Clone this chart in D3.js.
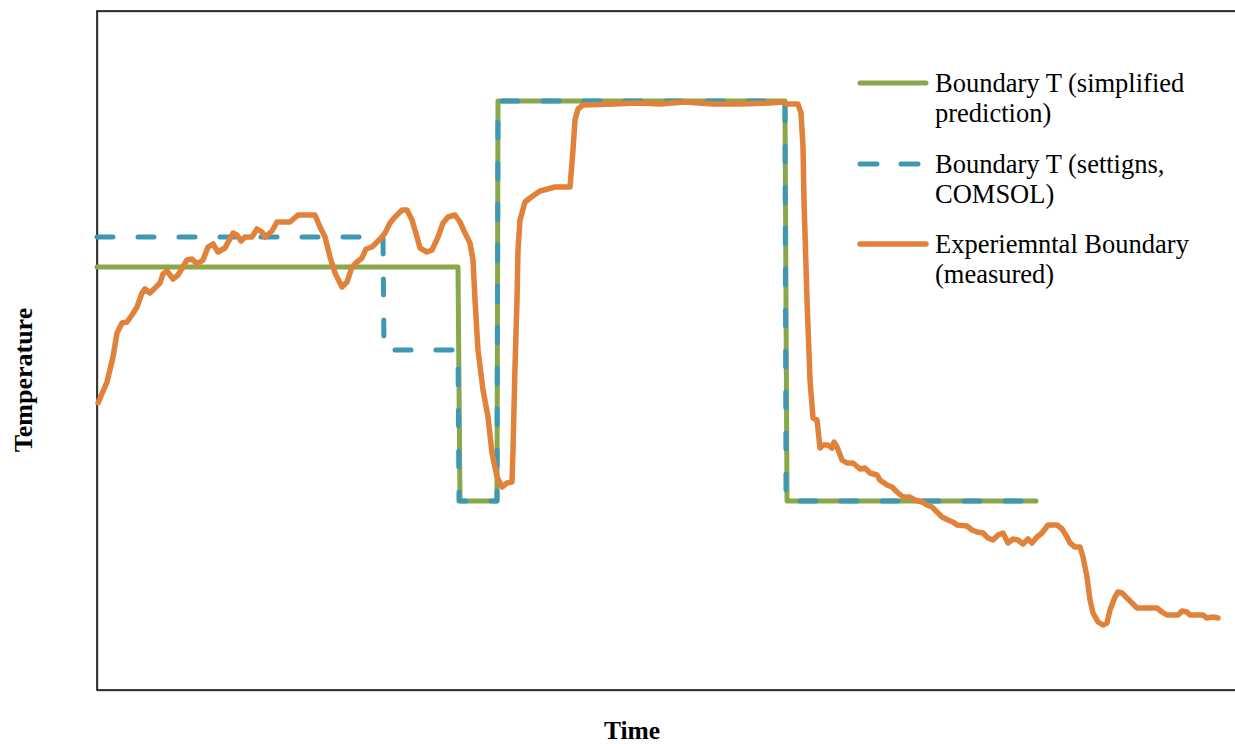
<!DOCTYPE html>
<html>
<head>
<meta charset="utf-8">
<script src="https://cdn.jsdelivr.net/npm/d3@7"></script>
<style>
  html, body { margin: 0; padding: 0; background: #fff; }
  svg { display: block; }
</style>
</head>
<body>
<svg id="chart" width="1235" height="744"></svg>
<script>
// ---- Data (arbitrary time / temperature units; the original has no tick labels) ----
const simplifiedTime = [0, 361, 363, 400, 401, 688, 690, 939];
const simplifiedTemp = [423, 423, 189, 189, 589, 589, 189, 189];

const comsolTime = [0, 286, 287, 361, 362, 400, 401, 688, 689, 939];
const comsolTemp = [453, 453, 340, 340, 189, 189, 589, 589, 189, 189];

const measuredTime = [
  1, 10, 16, 20, 25, 30, 35, 40, 45, 48,
  53, 58, 63, 66, 70, 76, 81, 90, 95, 100,
  106, 111, 116, 121, 128, 136, 140, 144, 148, 155,
  160, 165, 168, 175, 180, 193, 201, 218, 223, 228,
  233, 238, 245, 250, 255, 260, 265, 269, 275, 280,
  285, 288, 293, 298, 305, 310, 315, 320, 323, 330,
  335, 341, 346, 351, 358, 363, 368, 373, 376, 378,
  381, 386, 391, 395, 400, 405, 410, 415, 416, 418,
  420, 421, 423, 428, 433, 443, 458, 473, 476, 478,
  481, 486, 516, 543, 563, 588, 616, 643, 673, 686,
  690, 701, 704, 706, 707, 710, 713, 716, 720, 723,
  726, 731, 735, 737, 740, 745, 750, 756, 763, 768,
  773, 780, 783, 790, 795, 800, 806, 813, 818, 825,
  830, 835, 840, 845, 851, 856, 860, 870, 875, 880,
  886, 891, 896, 901, 906, 911, 916, 921, 926, 931,
  935, 940, 945, 951, 960, 965, 970, 973, 978, 983,
  986, 990, 993, 996, 1001, 1006, 1010, 1013, 1018, 1021,
  1025, 1030, 1035, 1040, 1046, 1060, 1065, 1070, 1081, 1085,
  1090, 1093, 1106, 1110, 1116, 1121
];
const measuredTemp = [
  287, 308, 333, 357, 367, 368, 375, 383, 397, 401,
  397, 402, 407, 416, 419, 411, 415, 430, 431, 426,
  430, 443, 446, 438, 442, 457, 455, 449, 453, 453,
  461, 458, 453, 459, 468, 468, 475, 475, 463, 453,
  433, 417, 403, 408, 423, 428, 432, 441, 443, 448,
  453, 457, 467, 473, 480, 480, 470, 453, 442, 438,
  440, 453, 467, 473, 475, 468, 457, 447, 430, 390,
  340, 300, 273, 237, 213, 203, 207, 208, 240, 323,
  390, 440, 470, 488, 492, 499, 503, 503, 540, 570,
  581, 585, 586, 587, 586, 588, 586, 586, 587, 588,
  586, 586, 577, 543, 490, 390, 310, 272, 270, 242,
  245, 245, 242, 248, 243, 230, 227, 227, 221, 222,
  217, 215, 210, 205, 203, 198, 193, 193, 190, 188,
  185, 183, 178, 173, 170, 168, 165, 164, 160, 158,
  157, 152, 150, 155, 157, 147, 151, 150, 146, 151,
  147, 153, 157, 165, 165, 161, 153, 147, 143, 143,
  133, 113, 90, 77, 68, 65, 67, 80, 93, 98,
  97, 92, 87, 82, 82, 82, 78, 75, 75, 79,
  78, 75, 75, 72, 73, 72
];

const legendLabels = [
  ["Boundary T (simplified", "prediction)"],
  ["Boundary T (settigns,", "COMSOL)"],
  ["Experiemntal Boundary", "(measured)"]
];
const xTitle = "Time";
const yTitle = "Temperature";

// ---- Layout ----
const svg = d3.select("#chart");
const plot = { left: 97, top: 11, right: 1241, bottom: 690 };
const serif = "'Liberation Serif', 'Times New Roman', Times, serif";

const x = d3.scaleLinear().domain([0, 1144]).range([plot.left, plot.right]);
const y = d3.scaleLinear().domain([0, 679]).range([plot.bottom, plot.top]);

const colors = { green: "#89a84a", blue: "#3f98b3", orange: "#e0823a" };

const zip = (ts, vs) => ts.map((t, i) => ({ t, v: vs[i] }));
const line = d3.line().x(d => x(d.t)).y(d => y(d.v));

// plot area border
svg.append("rect")
  .attr("x", plot.left + 0.8).attr("y", plot.top + 0.8)
  .attr("width", plot.right - plot.left).attr("height", plot.bottom - plot.top)
  .attr("fill", "none").attr("stroke", "#c4c4c4").attr("stroke-width", 1.6);
svg.append("rect")
  .attr("x", plot.left).attr("y", plot.top)
  .attr("width", plot.right - plot.left).attr("height", plot.bottom - plot.top)
  .attr("fill", "none").attr("stroke", "#000").attr("stroke-width", 1.5);

// axes without ticks (the original shows none)
const xAxis = d3.axisBottom(x).tickValues([]).tickSize(0);
const yAxis = d3.axisLeft(y).tickValues([]).tickSize(0);
svg.append("g").attr("transform", `translate(0,${plot.bottom})`).call(xAxis).select(".domain").attr("stroke", "none");
svg.append("g").attr("transform", `translate(${plot.left},0)`).call(yAxis).select(".domain").attr("stroke", "none");

// series
svg.append("path").datum(zip(simplifiedTime, simplifiedTemp))
  .attr("d", line).attr("fill", "none").attr("stroke", colors.green)
  .attr("stroke-width", 5).attr("stroke-linejoin", "round").attr("stroke-linecap", "round");

svg.append("path").datum(zip(comsolTime, comsolTemp))
  .attr("d", line).attr("fill", "none").attr("stroke", colors.blue)
  .attr("stroke-width", 5).attr("stroke-dasharray", "16,25")
  .attr("stroke-linejoin", "round").attr("stroke-linecap", "round");

svg.append("path").datum(zip(measuredTime, measuredTemp))
  .attr("d", line).attr("fill", "none").attr("stroke", colors.orange)
  .attr("stroke-width", 5.5).attr("stroke-linejoin", "round").attr("stroke-linecap", "round");

// legend
const legend = svg.append("g").attr("font-family", serif)
  .attr("font-size", 26.5).attr("fill", "#000");
const legendStyles = [
  { color: colors.green, dash: null, w: 5 },
  { color: colors.blue, dash: "17,24", w: 5 },
  { color: colors.orange, dash: null, w: 5.5 }
];
const legendY = [83, 164, 244];
legendLabels.forEach((lines, i) => {
  const g = legend.append("g").attr("transform", `translate(0,${legendY[i]})`);
  g.append("line").attr("x1", 860).attr("x2", 926).attr("y1", 0).attr("y2", 0)
    .attr("stroke", legendStyles[i].color).attr("stroke-width", legendStyles[i].w)
    .attr("stroke-linecap", "round").attr("stroke-dasharray", legendStyles[i].dash);
  lines.forEach((txt, j) => {
    g.append("text").attr("x", 935).attr("y", 9 + j * 30).text(txt);
  });
});

// axis titles
svg.append("text").attr("x", 632).attr("y", 739).attr("text-anchor", "middle")
  .attr("font-family", serif).attr("font-size", 25.5).attr("font-weight", "bold").text(xTitle);
svg.append("text")
  .attr("transform", "translate(32,380) rotate(-90)")
  .attr("text-anchor", "middle")
  .attr("font-family", serif).attr("font-size", 26).attr("font-weight", "bold").text(yTitle);
</script>
</body>
</html>
